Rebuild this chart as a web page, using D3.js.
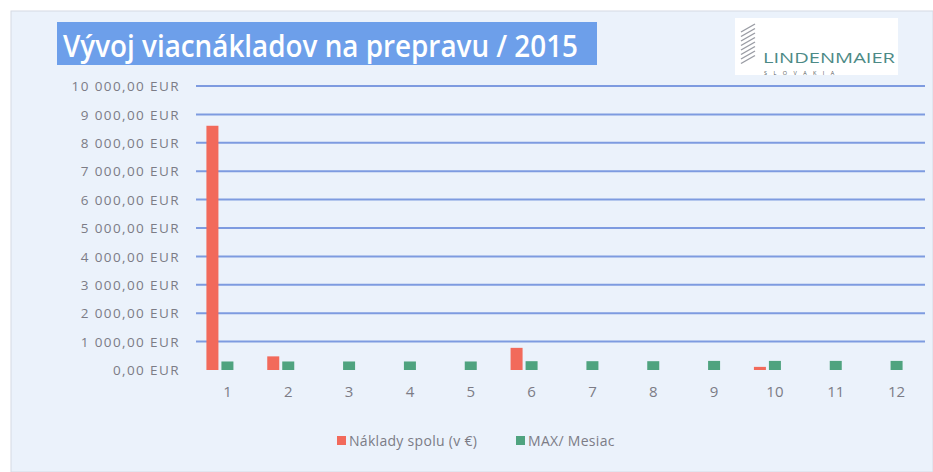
<!DOCTYPE html>
<html>
<head>
<meta charset="utf-8">
<script src="https://cdn.jsdelivr.net/npm/d3@7"></script>
<style>
  html, body { margin: 0; padding: 0; background: #ffffff; }
  svg { display: block; }
</style>
</head>
<body>
<svg id="chart" width="933" height="472"></svg>
<script>
// ---- data ----
const months = ["1","2","3","4","5","6","7","8","9","10","11","12"];
const seriesNames = ["Náklady spolu (v €)", "MAX/ Mesiac"];
const naklady = [8600, 480, 0, 0, 0, 780, 0, 0, 0, 110, 0, 0];
const maxMesiac = [300, 300, 300, 300, 300, 310, 310, 310, 320, 320, 320, 320];
const yTicks = [0, 1000, 2000, 3000, 4000, 5000, 6000, 7000, 8000, 9000, 10000];
const titleText = "Vývoj viacnákladov na prepravu / 2015";

const colors = ["#f26a5b", "#4fa37f"];

const svg = d3.select("#chart");
const W = 933, H = 472;

// panel background
svg.append("rect").attr("x", 0).attr("y", 0).attr("width", W).attr("height", H).attr("fill", "#ffffff");
svg.append("rect").attr("x", 11).attr("y", 11).attr("width", W - 11).attr("height", H - 11)
  .attr("fill", "#ebf2fb").attr("stroke", "#d6dae4").attr("stroke-width", 1);

// scales
const x0 = d3.scaleBand().domain(months).range([197, 927]).padding(0);
const x1 = d3.scaleBand().domain(seriesNames)
  .range([x0.bandwidth() / 2 - 21, x0.bandwidth() / 2 + 6]).paddingInner(0.2);
const y = d3.scaleLinear().domain([0, 10000]).range([370, 86]);

const loc = d3.formatLocale({ decimal: ",", thousands: "\u00a0", grouping: [3], currency: ["", " EUR"] });
const fmt = loc.format(",.2f");

// gridlines
svg.append("g").selectAll("line").data(yTicks.filter(d => d > 0)).join("line")
  .attr("x1", 196).attr("x2", 925)
  .attr("y1", d => y(d)).attr("y2", d => y(d))
  .attr("stroke", "#7e9be0").attr("stroke-width", 2);

// y axis labels
const yAxis = d3.axisLeft(y).tickValues(yTicks).tickSize(0).tickPadding(0)
  .tickFormat(d => fmt(d) + " EUR");
const gy = svg.append("g").attr("transform", "translate(180,0)").call(yAxis);
gy.select(".domain").remove();
gy.selectAll("text").attr("fill", "#7c7c86").attr("font-family", "'Open Sans', sans-serif")
  .attr("font-size", 13.5).attr("letter-spacing", 1.4).attr("dy", "0.35em");

// x axis labels
const xAxis = d3.axisBottom(x0).tickSize(0).tickPadding(0);
const gx = svg.append("g").attr("transform", "translate(0,383)").call(xAxis);
gx.select(".domain").remove();
gx.selectAll("text").attr("fill", "#7c7c86").attr("font-family", "'Open Sans', sans-serif")
  .attr("font-size", 15).attr("dy", "0.9em");

// bars
const rows = months.map((m, i) => ({ m, vals: [naklady[i], maxMesiac[i]] }));
const groups = svg.append("g").selectAll("g").data(rows).join("g")
  .attr("transform", d => `translate(${x0(d.m)},0)`);
groups.selectAll("rect").data(d => d.vals.map((v, j) => ({ v, s: seriesNames[j], j })))
  .join("rect")
  .attr("x", d => x1(d.s))
  .attr("width", x1.bandwidth())
  .attr("y", d => y(d.v))
  .attr("height", d => y(0) - y(d.v))
  .attr("fill", d => colors[d.j]);

// title box
svg.append("rect").attr("x", 57).attr("y", 22).attr("width", 540).attr("height", 43).attr("fill", "#6d9fea");
svg.append("text").attr("x", 63).attr("y", 57).text(titleText)
  .attr("fill", "#ffffff").attr("font-family", "'Open Sans', sans-serif").attr("font-size", 31)
  .attr("font-weight", 600)
  .attr("textLength", 515).attr("lengthAdjust", "spacingAndGlyphs");

// logo
const logo = svg.append("g");
logo.append("rect").attr("x", 735).attr("y", 18).attr("width", 163).attr("height", 57).attr("fill", "#ffffff");
const stripes = d3.range(8);
logo.selectAll("path.stripe").data(stripes).join("path").attr("class", "stripe")
  .attr("d", d => `M741,${32 + d * 4.5} L755,${24 + d * 4.5}`)
  .attr("stroke", "#9a9ca4").attr("stroke-width", 1.4).attr("fill", "none");
logo.append("text").attr("x", 763).attr("y", 63).text("LINDENMAIER")
  .attr("fill", "#4d8a86").attr("font-family", "'Open Sans', sans-serif").attr("font-size", 14)
  .attr("textLength", 132).attr("lengthAdjust", "spacingAndGlyphs");
logo.append("text").attr("x", 764).attr("y", 75).text("S L O V A K I A")
  .attr("fill", "#555a60").attr("font-family", "'Open Sans', sans-serif").attr("font-size", 5.5)
  .attr("letter-spacing", 2.5);

// legend
const legend = svg.append("g");
const legItems = [{ x: 337, name: seriesNames[0], c: colors[0] }, { x: 516, name: seriesNames[1], c: colors[1] }];
const li = legend.selectAll("g").data(legItems).join("g").attr("transform", d => `translate(${d.x},441)`);
li.append("rect").attr("x", 0).attr("y", -5).attr("width", 9).attr("height", 9).attr("fill", d => d.c);
li.append("text").attr("x", 12).attr("y", 0).attr("dy", "0.35em").text(d => d.name)
  .attr("fill", "#7c7c86").attr("font-family", "'Open Sans', sans-serif").attr("font-size", 14)
  .attr("letter-spacing", 0.3);
</script>
</body>
</html>
